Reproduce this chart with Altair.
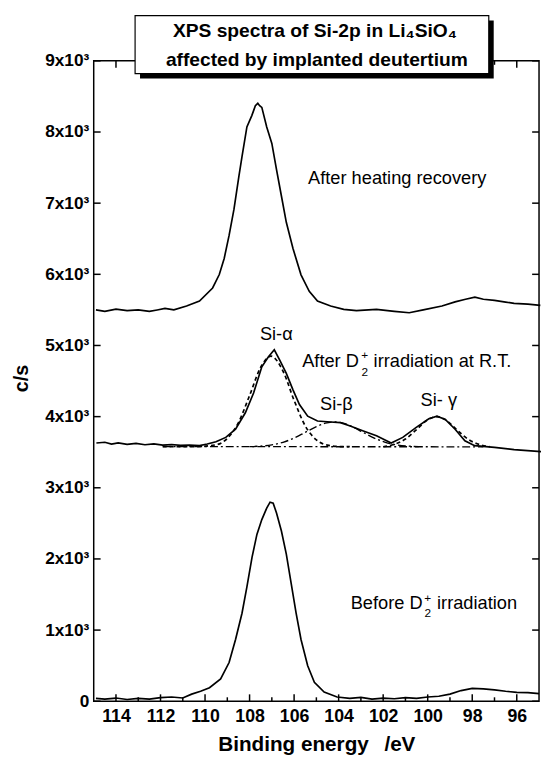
import altair as alt
import pandas as pd

# ---------------- data ----------------
# After heating recovery (top spectrum)
top_E = [114.9, 114.5, 114.0, 113.5, 113.0, 112.5, 112.15, 111.8, 111.4, 110.83, 110.25,
         109.66, 109.36, 109.14, 108.92, 108.70, 108.48, 108.34, 108.12, 107.90, 107.74,
         107.63, 107.55, 107.45, 107.23, 107.00, 106.79, 106.57, 106.35, 106.05, 105.69,
         105.32, 104.95, 104.36, 103.77, 103.2, 102.3, 101.5, 100.83, 100.2, 99.36, 98.77,
         98.3, 97.88, 97.5, 97.0, 96.5, 96.12, 95.5, 94.94]
top_c = [5500, 5480, 5510, 5490, 5500, 5480, 5499, 5520, 5500, 5554, 5623,
         5808, 5997, 6223, 6547, 6916, 7378, 7655, 8071, 8231, 8370,
         8403, 8370, 8346, 8071, 7839, 7470, 7101, 6731, 6362, 5993,
         5762, 5623, 5554, 5507, 5490, 5507, 5480, 5460, 5500, 5554, 5613,
         5650, 5678, 5650, 5633, 5610, 5591, 5580, 5563]

# After D2+ irradiation at R.T. (middle spectrum)
mid_E = [114.88, 114.5, 114.2, 113.9, 113.5, 113.1, 112.7, 112.3, 111.9, 111.5, 111.1,
         110.7, 110.25, 109.9, 109.51, 109.07, 108.63, 108.19, 107.82, 107.45, 107.16,
         106.89, 106.64, 106.35, 106.05, 105.76, 105.39, 104.95, 104.36, 103.92, 103.48,
         102.89, 102.30, 101.64, 101.12, 100.53, 99.95, 99.58, 99.21, 98.77, 98.33,
         97.89, 97.0, 96.12, 94.88]
mid_c = [3629, 3640, 3615, 3632, 3610, 3625, 3605, 3618, 3600, 3608, 3595,
         3600, 3592, 3615, 3647, 3708, 3823, 4054, 4331, 4700, 4838,
         4940, 4792, 4608, 4377, 4169, 4007, 3938, 3924, 3915, 3868,
         3799, 3730, 3629, 3708, 3846, 3971, 4007, 3961, 3823, 3661,
         3592, 3568, 3536, 3508]

# Before D2+ irradiation (bottom spectrum)
bot_E = [114.9, 114.5, 114.0, 113.5, 113.0, 112.5, 112.0, 111.5, 111.0, 110.6, 110.2,
         109.8, 109.3, 108.92, 108.63, 108.34, 108.12, 107.89, 107.67, 107.45, 107.23,
         107.08, 106.94, 106.79, 106.57, 106.35, 106.13, 105.91, 105.69, 105.39, 105.09,
         104.65, 104.07, 103.5, 103.0, 102.5, 102.0, 101.5, 101.0, 100.5, 100.0, 99.5,
         99.0, 98.5, 98.0, 97.5, 97.0, 96.5, 96.0, 95.5, 95.0]
bot_c = [40, 30, 45, 25, 40, 30, 50, 60, 46, 100, 140,
         190, 314, 544, 868, 1237, 1607, 2022, 2345, 2553, 2715,
         2798, 2784, 2645, 2392, 2068, 1652, 1237, 868, 499, 267,
         129, 60, 40, 55, 30, 45, 35, 50, 40, 60, 70,
         100, 150, 180, 175, 160, 140, 125, 120, 107]

# fitted components of the middle spectrum
fitA_E = [111.9, 110.5, 109.5, 109.0, 108.5, 108.0, 107.5, 107.04, 106.5, 106.0, 105.5, 105.0, 104.5, 104.0, 103.5]
fitA_c = [3578, 3577, 3605, 3694, 3917, 4297, 4694, 4850, 4640, 4229, 3870, 3673, 3599, 3580, 3578]
fitB_E = [108.0, 107.0, 106.5, 106.0, 105.5, 105.0, 104.6, 104.2, 103.8, 103.4, 102.9, 102.4, 101.9, 101.4, 100.4]
fitB_c = [3578, 3603, 3639, 3699, 3779, 3860, 3908, 3925, 3908, 3860, 3779, 3699, 3639, 3603, 3578]
fitG_E = [102.0, 101.5, 101.0, 100.5, 100.0, 99.6, 99.2, 98.7, 98.2, 97.7, 97.2]
fitG_c = [3577, 3610, 3685, 3818, 3955, 4000, 3955, 3818, 3685, 3610, 3577]
base_E = [111.9, 97.5]
base_c = [3580, 3575]

# axis ticks
x_major = [114, 112, 110, 108, 106, 104, 102, 100, 98, 96]
x_minor = [113, 111, 109, 107, 105, 103, 101, 99, 97]
y_major = [0, 1000, 2000, 3000, 4000, 5000, 6000, 7000, 8000, 9000]

# annotations (placed at their text baseline)
ann_text = ["After heating recovery", "Si-\u03b1", "Si-\u03b2", "Si- \u03b3",
            "After D", "irradiation at R.T.", "Before D", "irradiation"]
ann_E = [101.37, 106.80, 104.10, 99.50, 103.09, 102.43, 100.23, 99.58]
ann_c = [7271, 5083, 4100, 4155, 4700, 4700, 1292, 1292]
ann_align = ["center", "center", "center", "center", "right", "left", "right", "left"]
sup_text = ["+", "2", "+", "2"]
sup_E = [102.83, 102.83, 100.0, 100.0]
sup_c = [4861, 4626, 1450, 1237]

title_lines = ["XPS spectra of Si-2p in Li\u2084SiO\u2084", "affected by implanted deutertium"]
x_title = "Binding energy\u00a0\u00a0\u2009/eV"
y_title = "c/s"

# ---------------- build tables ----------------
def series(name, E, c):
    return pd.DataFrame({"E": E, "c": c, "s": name})

solid = pd.concat([series("top", top_E, top_c), series("mid", mid_E, mid_c),
                   series("bot", bot_E, bot_c)])
dashed = pd.concat([series("a", fitA_E, fitA_c), series("g", fitG_E, fitG_c)])
dashdot = pd.concat([series("b", fitB_E, fitB_c), series("base", base_E, base_c)])
ann = pd.DataFrame({"t": ann_text, "E": ann_E, "c": ann_c, "al": ann_align})
sup = pd.DataFrame({"t": sup_text, "E": sup_E, "c": sup_c})

W, H = 452, 650
FONT = "Liberation Sans"

xscale = alt.Scale(domain=[95, 115], reverse=True, nice=False, zero=False)
yscale = alt.Scale(domain=[0, 9000], nice=False, zero=False)
xaxis = alt.Axis(values=x_major, ticks=False, domain=False, grid=False,
                 labelFont=FONT, labelFontSize=18, labelFontWeight="bold", labelColor="black",
                 labelPadding=7, labelFlush=False,
                 title=x_title, titleFont=FONT, titleFontSize=21, titleFontWeight="bold",
                 titleColor="black", titleX=226, titleY=50, titleAlign="center",
                 titleBaseline="alphabetic")
yaxis = alt.Axis(values=y_major, ticks=False, domain=False, grid=False,
                 labelExpr="datum.value == 0 ? '0' : format(datum.value/1000, 'd') + 'x10\u00b3'",
                 labelFont=FONT, labelFontSize=17.5, labelFontWeight="bold", labelColor="black",
                 labelPadding=5, labelFlush=False,
                 title=y_title, titleFont=FONT, titleFontSize=20, titleFontWeight="bold",
                 titleColor="black", titleX=-73, titleY=322, titleAlign="center",
                 titleBaseline="middle", titleAngle=270)

X = lambda f: alt.X(f, scale=xscale, axis=xaxis)
Y = lambda f: alt.Y(f, scale=yscale, axis=yaxis)

one = alt.Data(values=[{}])

frame = alt.Chart(one).mark_rect(fill=None, stroke="black", strokeWidth=1.5).encode(
    x=alt.value(0), x2=alt.value(W), y=alt.value(0), y2=alt.value(H))

l_solid = alt.Chart(solid).mark_line(color="black", strokeWidth=1.7).encode(
    x=X("E:Q"), y=Y("c:Q"), detail="s:N")
l_dash = alt.Chart(dashed).mark_line(color="black", strokeWidth=1.7, strokeDash=[4, 3],
                                     interpolate="monotone").encode(
    x=X("E:Q"), y=Y("c:Q"), detail="s:N")
l_dd = alt.Chart(dashdot).mark_line(color="black", strokeWidth=1.4, strokeDash=[8, 3, 2, 3],
                                    interpolate="monotone").encode(
    x=X("E:Q"), y=Y("c:Q"), detail="s:N")

xt_major = pd.DataFrame({"v": x_major})
xt_minor = pd.DataFrame({"v": x_minor})
yt = pd.DataFrame({"v": y_major})
tick_style = dict(color="black", strokeWidth=1.5)
ticks = [
    alt.Chart(xt_major).mark_rule(**tick_style).encode(x=X("v:Q"), y=alt.value(H), y2=alt.value(H - 7)),
    alt.Chart(xt_major).mark_rule(**tick_style).encode(x=X("v:Q"), y=alt.value(0), y2=alt.value(7)),
    alt.Chart(xt_minor).mark_rule(**tick_style).encode(x=X("v:Q"), y=alt.value(H), y2=alt.value(H - 4)),
    alt.Chart(xt_minor).mark_rule(**tick_style).encode(x=X("v:Q"), y=alt.value(0), y2=alt.value(4)),
    alt.Chart(yt).mark_rule(**tick_style).encode(y=Y("v:Q"), x=alt.value(0), x2=alt.value(7)),
    alt.Chart(yt).mark_rule(**tick_style).encode(y=Y("v:Q"), x=alt.value(W), x2=alt.value(W - 7)),
]

text_layers = []
for al in ["center", "left", "right"]:
    sub = ann[ann["al"] == al]
    text_layers.append(
        alt.Chart(sub).mark_text(font=FONT, fontSize=18.5, color="black", baseline="alphabetic",
                                 align=al).encode(x=X("E:Q"), y=Y("c:Q"), text="t:N"))
sups = alt.Chart(sup).mark_text(font=FONT, fontSize=12, color="black", baseline="middle",
                                align="center").encode(x=X("E:Q"), y=Y("c:Q"), text="t:N")

shadow = alt.Chart(one).mark_rect(fill="black").encode(
    x=alt.value(47), x2=alt.value(406), y=alt.value(-41), y2=alt.value(18))
box = alt.Chart(one).mark_rect(fill="white", stroke="black", strokeWidth=1.2).encode(
    x=alt.value(42), x2=alt.value(401), y=alt.value(-46), y2=alt.value(13))
t1 = alt.Chart(one).mark_text(text=title_lines[0], font=FONT, fontSize=19.5, fontWeight="bold",
                              color="black", align="center", baseline="alphabetic").encode(
    x=alt.value(224.5), y=alt.value(-24))
t2 = alt.Chart(one).mark_text(text=title_lines[1], font=FONT, fontSize=19.5, fontWeight="bold",
                              color="black", align="center", baseline="alphabetic").encode(
    x=alt.value(226.5), y=alt.value(5))

chart = alt.layer(frame, l_dd, l_dash, l_solid, *ticks, *text_layers, sups, shadow, box, t1, t2).properties(
    width=W, height=H,
    autosize=alt.AutoSizeParams(type="none"),
    padding={"left": 87, "top": 48, "right": 2, "bottom": 55},
    background="white",
).configure_view(stroke=None)

chart.save("out.html", embed_options={"renderer": "svg", "actions": False})
